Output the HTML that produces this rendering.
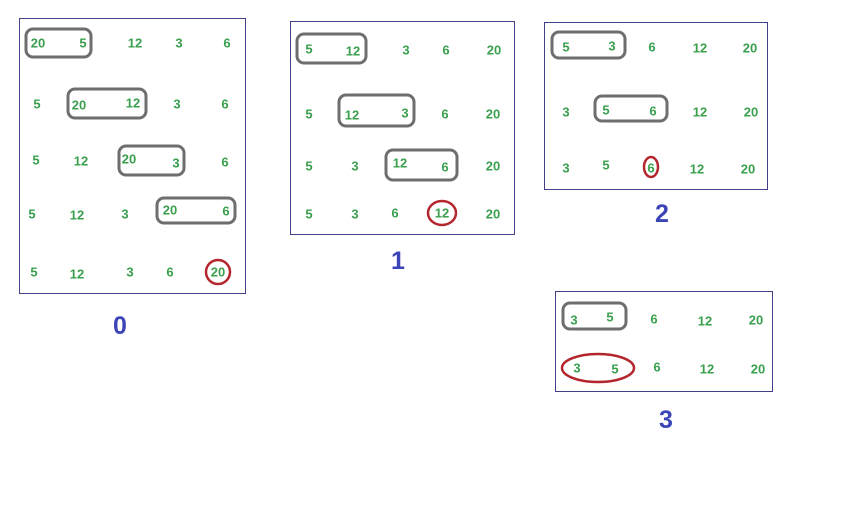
<!DOCTYPE html>
<html><head><meta charset="utf-8"><style>
html,body{margin:0;padding:0;background:#fff;width:848px;height:518px;overflow:hidden}
svg text.n{font-family:"Liberation Sans",sans-serif;font-weight:bold;font-size:13px;fill:#3aa04e;text-anchor:middle;dominant-baseline:central}
svg text.l{font-family:"Liberation Sans",sans-serif;font-weight:bold;font-size:25px;fill:#3b45b8;text-anchor:middle;dominant-baseline:central}
.frame{fill:none;stroke:#3f3f8a;stroke-width:1}
.box{fill:none;stroke:#6e6e6e;stroke-width:3}
.red{fill:none;stroke:#b3262d;stroke-width:2.5}
</style></head><body>
<svg width="848" height="518" xmlns="http://www.w3.org/2000/svg">
<g>
<rect class="frame" x="19.5" y="18.5" width="226" height="275"/>
<rect class="box" x="26" y="29" width="65" height="28" rx="7"/>
<rect class="box" x="68" y="89" width="78" height="29" rx="7"/>
<rect class="box" x="119" y="146" width="65" height="29" rx="7"/>
<rect class="box" x="157" y="198" width="78" height="25" rx="7"/>
<circle class="red" cx="218" cy="272" r="12"/>
<text class="n" x="38" y="43">20</text><text class="n" x="83" y="43">5</text><text class="n" x="135" y="43">12</text><text class="n" x="179" y="43">3</text><text class="n" x="227" y="43">6</text>
<text class="n" x="37" y="104">5</text><text class="n" x="79" y="105">20</text><text class="n" x="133" y="103">12</text><text class="n" x="177" y="104">3</text><text class="n" x="225" y="104">6</text>
<text class="n" x="36" y="160">5</text><text class="n" x="81" y="161">12</text><text class="n" x="129" y="159">20</text><text class="n" x="176" y="163">3</text><text class="n" x="225" y="162">6</text>
<text class="n" x="32" y="214">5</text><text class="n" x="77" y="215">12</text><text class="n" x="125" y="214">3</text><text class="n" x="170" y="210">20</text><text class="n" x="226" y="211">6</text>
<text class="n" x="34" y="272">5</text><text class="n" x="77" y="274">12</text><text class="n" x="130" y="272">3</text><text class="n" x="170" y="272">6</text><text class="n" x="218" y="272">20</text>
<text class="l" x="120" y="326">0</text>
</g>
<g>
<rect class="frame" x="290.5" y="21.5" width="224" height="213"/>
<rect class="box" x="297" y="34" width="69" height="29" rx="7"/>
<rect class="box" x="339" y="95" width="75" height="31" rx="7"/>
<rect class="box" x="386" y="150" width="71" height="30" rx="7"/>
<ellipse class="red" cx="442" cy="213" rx="14" ry="12"/>
<text class="n" x="309" y="49">5</text><text class="n" x="353" y="51">12</text><text class="n" x="406" y="50">3</text><text class="n" x="446" y="50">6</text><text class="n" x="494" y="50">20</text>
<text class="n" x="309" y="114">5</text><text class="n" x="352" y="115">12</text><text class="n" x="405" y="113">3</text><text class="n" x="445" y="114">6</text><text class="n" x="493" y="114">20</text>
<text class="n" x="309" y="166">5</text><text class="n" x="355" y="166">3</text><text class="n" x="400" y="163">12</text><text class="n" x="445" y="167">6</text><text class="n" x="493" y="166">20</text>
<text class="n" x="309" y="214">5</text><text class="n" x="355" y="214">3</text><text class="n" x="395" y="213">6</text><text class="n" x="442" y="213">12</text><text class="n" x="493" y="214">20</text>
<text class="l" x="398" y="261">1</text>
</g>
<g>
<rect class="frame" x="544.5" y="22.5" width="223" height="167"/>
<rect class="box" x="552" y="32" width="73" height="26" rx="7"/>
<rect class="box" x="595" y="96" width="72" height="25" rx="7"/>
<ellipse class="red" cx="651" cy="167" rx="7" ry="10"/>
<text class="n" x="566" y="47">5</text><text class="n" x="612" y="46">3</text><text class="n" x="652" y="47">6</text><text class="n" x="700" y="48">12</text><text class="n" x="750" y="48">20</text>
<text class="n" x="566" y="112">3</text><text class="n" x="606" y="110">5</text><text class="n" x="653" y="111">6</text><text class="n" x="700" y="112">12</text><text class="n" x="751" y="112">20</text>
<text class="n" x="566" y="168">3</text><text class="n" x="606" y="165">5</text><text class="n" x="651" y="168">6</text><text class="n" x="697" y="169">12</text><text class="n" x="748" y="169">20</text>
<text class="l" x="662" y="214">2</text>
</g>
<g>
<rect class="frame" x="555.5" y="291.5" width="217" height="100"/>
<rect class="box" x="563" y="303" width="63" height="26" rx="7"/>
<ellipse class="red" cx="598" cy="368" rx="36" ry="14"/>
<text class="n" x="574" y="320">3</text><text class="n" x="610" y="317">5</text><text class="n" x="654" y="319">6</text><text class="n" x="705" y="321">12</text><text class="n" x="756" y="320">20</text>
<text class="n" x="577" y="368">3</text><text class="n" x="615" y="369">5</text><text class="n" x="657" y="367">6</text><text class="n" x="707" y="369">12</text><text class="n" x="758" y="369">20</text>
<text class="l" x="666" y="420">3</text>
</g>
</svg>
</body></html>
